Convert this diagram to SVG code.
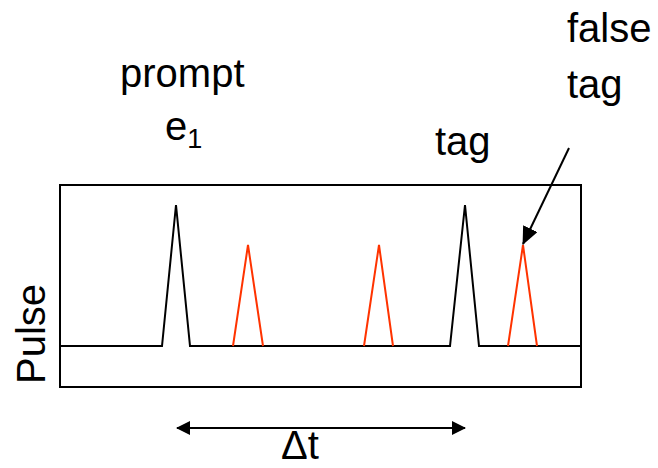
<svg xmlns="http://www.w3.org/2000/svg" width="658" height="468" viewBox="0 0 658 468">
<style>
text{font-family:"Liberation Sans",Arial,sans-serif;font-size:40px;fill:#000}
.k{fill:none;stroke:#000;stroke-width:2}
.r{fill:none;stroke:#ff3300;stroke-width:2}
</style>
<defs>
<marker id="ah" markerWidth="14" markerHeight="14" refX="13" refY="7" orient="auto" markerUnits="userSpaceOnUse" viewBox="0 0 14 14">
<path d="M0,0 L14,7 L0,14 z" fill="#000"/>
</marker>
<marker id="ah2" markerWidth="18" markerHeight="16" refX="17" refY="8" orient="auto" markerUnits="userSpaceOnUse" viewBox="0 0 18 16">
<path d="M0,0 L18,8 L0,16 z" fill="#000"/>
</marker>
</defs>
<g id="frame">
<rect x="60" y="185" width="521" height="202" class="k"/>
</g>
<g id="signal">
<polyline class="k" points="60,346 162,346 176,205 190,346 450,346 465,205 479,346 581,346"/>
<polyline class="r" points="233,346 248,245 263,346"/>
<polyline class="r" points="364,346 379,245 393,346"/>
<polyline class="r" points="508,346 523,245 537,346"/>
</g>
<g id="labels">
<text x="120" y="87">prompt</text>
<text x="165" y="140">e<tspan font-size="27" dy="8">1</tspan></text>
<text x="435" y="155">tag</text>
<text x="567" y="42">false</text>
<text x="567" y="98">tag</text>
<text transform="translate(45,384) rotate(-90)">Pulse</text>
<text x="281" y="459" font-size="38">Δt</text>
</g>
<g id="connectors">
<line x1="569" y1="148" x2="523" y2="244" stroke="#000" stroke-width="2" marker-end="url(#ah2)"/>
<line x1="300" y1="428" x2="465" y2="428" stroke="#000" stroke-width="2" marker-end="url(#ah)"/>
<line x1="300" y1="428" x2="177" y2="428" stroke="#000" stroke-width="2" marker-end="url(#ah)"/>
</g>
</svg>
